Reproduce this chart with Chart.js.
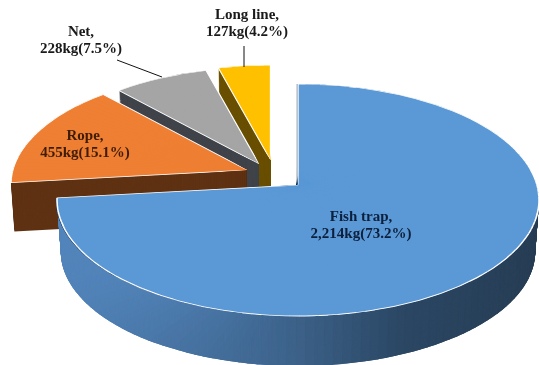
<!DOCTYPE html>
<html><head><meta charset="utf-8">
<style>html,body{margin:0;padding:0;background:#fff;overflow:hidden}canvas{display:block}</style>
<script src="https://cdn.jsdelivr.net/npm/chart.js@4"></script>
</head><body>
<canvas id="c" width="539" height="365"></canvas>
<script>
// --- data ---
const categories = ['Fish trap', 'Rope', 'Net', 'Long line'];
const values = [2214, 455, 228, 127];
const kgLabels = ['2,214kg', '455kg', '228kg', '127kg'];
const pctLabels = ['73.2%', '15.1%', '7.5%', '4.2%'];
// --- style ---
const topColors = ['#5b99d6', '#ee7f33', '#a5a5a5', '#ffc000'];
const wallColors = [null, '#5f3213', '#40444a', '#6a5000'];
const textColors = ['#0c1f3c', '#3f1c06', '#1a1a1a', '#1a1a1a'];
const labelPos = [[361, 217], [85, 136], [81, 32], [247, 15]];
const leaders = [null, null, [117, 60, 162, 77], [244, 46, 244, 67]];
const apexX = [298, 247, 259, 270.5];
const apexY = [185, 170, 164, 160];
const sliceScale = [1, 0.98, 0.955, 0.94];
const sliceDepth = [52, 49, 48, 47];
const drawOrder = [3, 2, 1, 0];
const rimRx = 241, rimRy = 116, persp = 15 / 116, stepDeg = 2;
const blueWallStops = [[60, 82, 132, 186], [280, 62, 100, 140], [400, 43, 71, 100], [538, 40, 62, 85]];

function blueWall(x) {
  let s = blueWallStops;
  if (x <= s[0][0]) return `rgb(${s[0][1]},${s[0][2]},${s[0][3]})`;
  for (let i = 1; i < s.length; i++) if (x <= s[i][0]) {
    const f = (x - s[i-1][0]) / (s[i][0] - s[i-1][0]);
    return `rgb(${[1,2,3].map(k => Math.round(s[i-1][k] + f * (s[i][k] - s[i-1][k]))).join(',')})`;
  }
  const l = s[s.length-1]; return `rgb(${l[1]},${l[2]},${l[3]})`;
}
// rim position of a chart angle, relative to the slice apex (perspective view of a circle)
function rim(t) {
  const X = Math.cos(t), Y = -Math.sin(t), q = 1 + persp * Y;
  return [rimRx * X * Math.sqrt(1 - persp * persp) / q, -rimRy * ((Y + persp) / q - persp)];
}
function drawSector(ctx, el, i, t0, t1, pad0, pad1, back, dx, dy, shrink, proxy) {
  const R = el.outerRadius, u0 = Math.cos(t0), v0 = Math.sin(t0), u1 = Math.cos(t1), v1 = Math.sin(t1);
  const det = u0 * v1 - u1 * v0, q0 = rim(t0), q1 = rim(t1), s = sliceScale[i] * shrink / R;
  const a = (q0[0] * v1 - q1[0] * v0) / det, c = (q1[0] * u0 - q0[0] * u1) / det;
  const b = (q0[1] * v1 - q1[1] * v0) / det, d = (q1[1] * u0 - q0[1] * u1) / det;
  ctx.save();
  ctx.setTransform(a * s, b * s, c * s, d * s, apexX[i] + dx - (a * el.x + c * el.y) * s, apexY[i] + dy - (b * el.x + d * el.y) * s);
  ctx.beginPath();
  const A = t0 - pad0, B = t1 + pad1, M = (A + B) / 2;
  ctx.moveTo(el.x - back * R * Math.cos(M), el.y - back * R * Math.sin(M));
  ctx.lineTo(el.x + 2 * R * Math.cos(A), el.y + 2 * R * Math.sin(A));
  ctx.lineTo(el.x + 2 * R * Math.cos(M), el.y + 2 * R * Math.sin(M));
  ctx.lineTo(el.x + 2 * R * Math.cos(B), el.y + 2 * R * Math.sin(B));
  ctx.closePath();
  ctx.clip();
  proxy.draw(ctx);
  ctx.restore();
}
function sectors(el) {
  const out = [], step = stepDeg * Math.PI / 180;
  const n = Math.max(1, Math.ceil((el.endAngle - el.startAngle) / step));
  const h = (el.endAngle - el.startAngle) / n;
  for (let k = 0; k < n; k++) out.push([el.startAngle + k * h, el.startAngle + (k + 1) * h, k === 0, k === n - 1]);
  return out;
}
function withOptions(el, extra) {
  const p = Object.create(el);
  p.options = Object.assign({}, el.options, extra);
  return p;
}
const warpPlugin = {
  id: 'warp',
  beforeDatasetsDraw(chart) {
    const ctx = chart.ctx, els = chart.getDatasetMeta(0).data;
    for (const i of drawOrder) {
      const el = els[i], secs = sectors(el);
      for (const [t0, t1] of secs) {
        const midX = apexX[i] + sliceScale[i] * rim((t0 + t1) / 2)[0];
        const p = withOptions(el, { backgroundColor: wallColors[i] || blueWall(midX), borderWidth: 0 });
        for (let d = sliceDepth[i]; d >= 1; d--) drawSector(ctx, el, i, t0, t1, 0.02, 0.02, 0.05, 0, d, 1 - 0.0003 * d, p);
      }
      if (i === 0) {
        const edge = withOptions(el, { backgroundColor: '#1f3a5c', borderWidth: 0 });
        for (const [t0, t1] of secs) drawSector(ctx, el, i, t0, t1, 0.02, 0.02, 0.05, -1.2, 0, 1, edge);
      }
      const fill = withOptions(el, { borderWidth: 0 });
      for (const [t0, t1] of secs) drawSector(ctx, el, i, t0, t1, 0.02, 0.02, 0.05, 0, 0, 1, fill);
      const line = withOptions(el, { backgroundColor: 'rgba(0,0,0,0)' });
      for (const [t0, t1, first, last] of secs) {
        // the straight edge of the big slice facing the gap stays dark, so only inner sectors carry the white rim there
        drawSector(ctx, el, i, t0, t1, first ? 0.05 : 0.0005, last ? 0.05 : 0.0005, 0, 0, 0, 1, line);
      }
    }
    // labels and leader lines
    ctx.save();
    ctx.setTransform(1, 0, 0, 1, 0, 0);
    ctx.strokeStyle = '#111'; ctx.lineWidth = 1;
    for (const l of leaders) if (l) { ctx.beginPath(); ctx.moveTo(l[0], l[1]); ctx.lineTo(l[2], l[3]); ctx.stroke(); }
    ctx.font = 'bold 15px "Liberation Serif"';
    ctx.textAlign = 'center'; ctx.textBaseline = 'middle';
    categories.forEach((name, i) => {
      ctx.fillStyle = textColors[i];
      ctx.fillText(name + ',', labelPos[i][0], labelPos[i][1]);
      ctx.fillText(kgLabels[i] + '(' + pctLabels[i] + ')', labelPos[i][0], labelPos[i][1] + 17.5);
    });
    ctx.restore();
    return false;
  }
};
new Chart(document.getElementById('c'), {
  type: 'pie',
  data: { labels: categories, datasets: [{ data: values, backgroundColor: topColors, borderColor: '#ffffff', borderWidth: 1.2 }] },
  options: {
    responsive: false, animation: false, rotation: 0,
    plugins: { legend: { display: false }, tooltip: { enabled: false } }
  },
  plugins: [warpPlugin]
});
</script>
</body></html>
